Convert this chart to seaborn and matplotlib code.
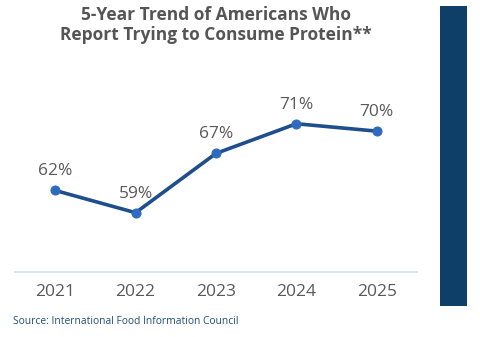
import matplotlib
matplotlib.use("Agg")
import matplotlib.pyplot as plt
from matplotlib.patches import Rectangle
import seaborn as sns
import pandas as pd

years = ["2021", "2022", "2023", "2024", "2025"]
shares = [62, 59, 67, 71, 70]
title = "5-Year Trend of Americans Who\nReport Trying to Consume Protein**"
source = "Source: International Food Information Council"

sns.set_theme(style="white")
plt.rcParams["font.family"] = ["Open Sans", "DejaVu Sans"]

df = pd.DataFrame({"year": years, "share": shares})

fig = plt.figure(figsize=(4.8, 3.37), dpi=100)
ax = fig.add_axes([15 / 480, 1 - 272 / 337, 402 / 480, 212 / 337])

sns.lineplot(data=df, x="year", y="share", ax=ax, color="#1f4e8c",
             linewidth=2.6, marker="o", markersize=6.5,
             markerfacecolor="#2e6bbf", markeredgecolor="#2e6bbf")

for i, v in enumerate(shares):
    ax.annotate(f"{v}%", (i, v), xytext=(0, 8), textcoords="offset points",
                ha="center", va="bottom", fontsize=12.5, color="#595959")

ax.set_xlim(-0.5, 4.5)
ax.set_ylim(51, 79.6)
ax.set_xlabel("")
ax.set_ylabel("")
ax.set_yticks([])
for s in ["top", "right", "left"]:
    ax.spines[s].set_visible(False)
ax.spines["bottom"].set_color("#cfe2f7")
ax.spines["bottom"].set_linewidth(1.2)
ax.tick_params(axis="x", length=0, pad=9, labelsize=12.5, labelcolor="#595959")

fig.text(216 / 480, 1 - 25 / 337, title, ha="center", va="center",
         fontsize=12.5, fontweight="bold", color="#555555", linespacing=1.15)
fig.text(13 / 480, 1 - 321 / 337, source, ha="left", va="center",
         fontsize=7.4, color="#1f4e79")

fig.patches.append(Rectangle((440 / 480, 1 - 306 / 337), 27 / 480, 300 / 337,
                             transform=fig.transFigure, facecolor="#0e3f69",
                             edgecolor="none"))

fig.savefig("out.png", dpi=100)
